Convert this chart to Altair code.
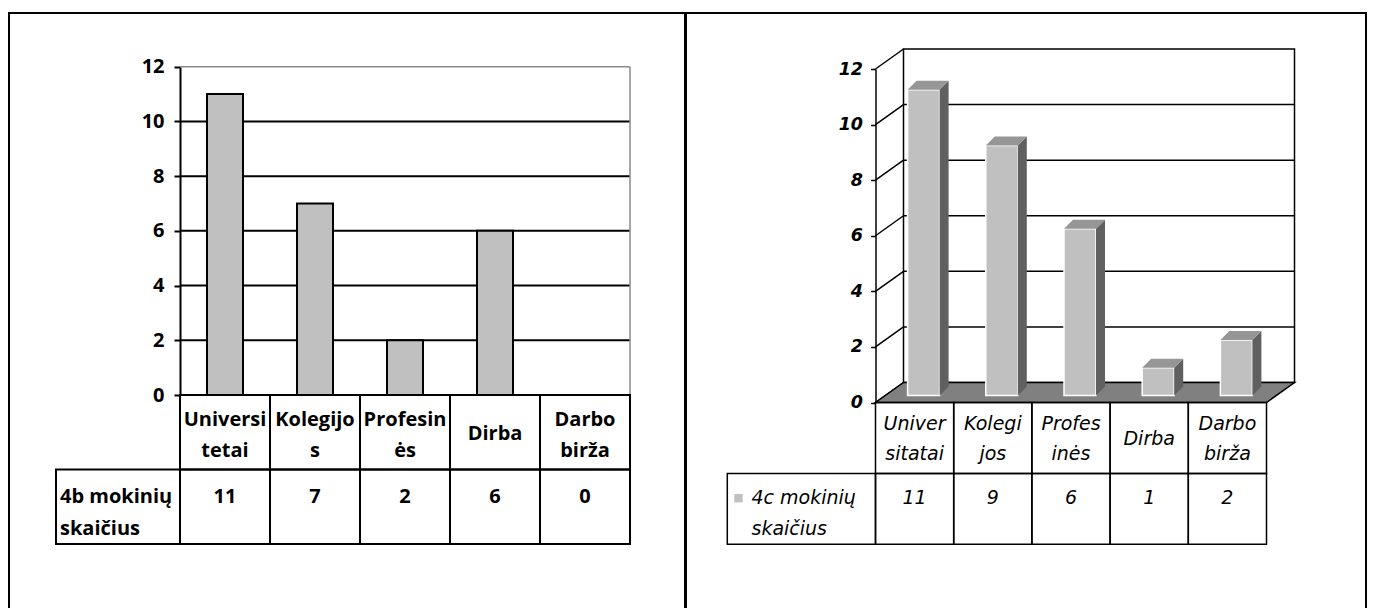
import altair as alt
import pandas as pd

# ---------------- chart values ----------------
CATEGORIES_4B = ["Universi\ntetai", "Kolegijo\ns", "Profesin\nės", "Dirba", "Darbo\nbirža"]
VALUES_4B = [11, 7, 2, 6, 0]
SERIES_4B = "4b mokinių\nskaičius"

CATEGORIES_4C = ["Univer\nsitatai", "Kolegi\njos", "Profes\ninės", "Dirba", "Darbo\nbirža"]
VALUES_4C = [11, 9, 6, 1, 2]
SERIES_4C = "4c mokinių\nskaičius"

Y_TICKS = [0, 2, 4, 6, 8, 10, 12]
TABLE_ROWS = ["categories", "values"]

# ---------------- layout / style ----------------
PANEL_H = 600
LEFT_W, RIGHT_W = 676, 680


def lin(domain, rng):
    return alt.Scale(domain=domain, range=rng, nice=False, zero=False, padding=0)


def band(rng):
    return alt.Scale(domain=TABLE_ROWS, range=rng, paddingInner=0, paddingOuter=0)


def split_labels(cats):
    multi, single = [], []
    for i, c in enumerate(cats):
        rec = {"x": i + 0.5, "row": TABLE_ROWS[0], "label": c}
        (multi if "\n" in c else single).append(rec)
    return pd.DataFrame(multi), pd.DataFrame(single)


# ================= left panel: 2D bars with data table =================
def left_panel():
    n = len(CATEGORIES_4B)
    ymax = max(Y_TICKS)
    XR, YR, RR = [171, 621], [382, 53.7], [382, 531]
    px = (XR[1] - XR[0]) / n
    xs, ys, rs = lin([0, n], XR), lin([0, ymax], YR), band(RR)
    font = dict(font="Open Sans", fontSize=20, fontWeight="bold", color="black")

    def X(f):
        return alt.X(f, scale=xs, axis=None)

    def Y(f):
        return alt.Y(f, scale=ys, axis=None)

    R = alt.Y("row:N", scale=rs, axis=None)

    grid = pd.DataFrame({"v": [t for t in Y_TICKS if 0 < t < ymax], "x0": 0, "x1": n})
    border = pd.DataFrame({"x0": [0, n], "x1": [n, n], "y0": [ymax, 0], "y1": [ymax, ymax]})
    bars = pd.DataFrame({"cat": CATEGORIES_4B, "value": VALUES_4B,
                         "xc": [i + 0.5 for i in range(n)]})
    label_x0 = -(180 - 56) / px
    cells = pd.DataFrame(
        [{"row": TABLE_ROWS[0], "x0": i, "x1": i + 1} for i in range(n)]
        + [{"row": TABLE_ROWS[1], "x0": label_x0, "x1": 0}]
        + [{"row": TABLE_ROWS[1], "x0": i, "x1": i + 1} for i in range(n)])
    multi, single = split_labels(CATEGORIES_4B)
    vals = pd.DataFrame({"x": [i + 0.5 for i in range(n)], "row": TABLE_ROWS[1],
                         "label": [str(v) for v in VALUES_4B]})
    series = pd.DataFrame({"x": [-(180 - 60) / px], "row": [TABLE_ROWS[1]], "label": [SERIES_4B]})

    axis = alt.Axis(orient="left", offset=-XR[0], values=Y_TICKS, grid=False, title=None,
                    domainColor="black", domainWidth=2, tickColor="black", tickWidth=2,
                    tickSize=6, labelFont="Open Sans", labelFontSize=20,
                    labelFontWeight="bold", labelColor="black", labelPadding=10)

    layers = [
        alt.Chart(grid).mark_rule(color="black", strokeWidth=2).encode(
            x=X("x0:Q"), x2=alt.X2("x1"), y=Y("v:Q")),
        alt.Chart(border).mark_rule(color="#8a8a8a", strokeWidth=1.5).encode(
            x=X("x0:Q"), x2=alt.X2("x1"), y=Y("y0:Q"), y2=alt.Y2("y1")),
        alt.Chart(bars).mark_bar(size=36, fill="#c0c0c0", stroke="black", strokeWidth=2).encode(
            x=X("xc:Q"), y=alt.Y("value:Q", scale=ys, axis=axis)),
        alt.Chart(cells).mark_rect(filled=False, stroke="black", strokeWidth=2).encode(
            x=X("x0:Q"), x2=alt.X2("x1"), y=R),
        alt.Chart(multi).mark_text(baseline="top", lineBreak="\n", lineHeight=31,
                                   dy=-22.25, **font).encode(x=X("x:Q"), y=R, text="label:N"),
        alt.Chart(single).mark_text(baseline="middle", dy=2, **font).encode(
            x=X("x:Q"), y=R, text="label:N"),
        alt.Chart(vals).mark_text(baseline="top", dy=-19.75, **font).encode(
            x=X("x:Q"), y=R, text="label:N"),
        alt.Chart(series).mark_text(baseline="top", align="left", lineBreak="\n",
                                    lineHeight=31.5, dy=-19.75, **font).encode(
            x=X("x:Q"), y=R, text="label:N"),
    ]
    return alt.layer(*layers).resolve_scale(y="independent").properties(
        width=LEFT_W, height=PANEL_H)


# ================= right panel: 3D bars with data table =================
def right_panel():
    n = len(CATEGORIES_4C)
    ymax = max(Y_TICKS)
    XR, YR, RR = [189.5, 580.5], [389.5, 56], [389.5, 531.3]
    pxx = (XR[1] - XR[0]) / n
    pxy = (YR[0] - YR[1]) / ymax
    xs, ys, rs = lin([0, n], XR), lin([0, ymax], YR), band(RR)
    font = dict(font="DejaVu Sans", fontSize=19, fontStyle="italic", color="black")

    # depth of the 3D box and of the bars (pixels -> data units)
    DX, DY = 28 / pxx, 20 / pxy
    OX, OY = 9 / pxx, 7 / pxy
    BW, BDX, BDY = 32 / pxx, 9 / pxx, 9 / pxy

    def X(f):
        return alt.X(f, scale=xs, axis=None, stack=None)

    def Y(f):
        return alt.Y(f, scale=ys, axis=None, stack=None)

    R = alt.Y("row:N", scale=rs, axis=None)

    wall = pd.DataFrame({"x0": [DX], "x1": [n + DX], "y0": [DY], "y1": [ymax + DY]})
    wgrid = pd.DataFrame({"y": [t + DY for t in Y_TICKS if 0 < t < ymax],
                          "x0": DX, "x1": n + DX})
    diag = pd.DataFrame({"v": Y_TICKS, "v2": [t + DY for t in Y_TICKS], "x0": 0, "x1": DX})
    floor = pd.DataFrame({"y": [0, DY], "xa": [0, DX], "xb": [n, n + DX]})

    front, side, top = [], [], []
    for i, (c, v) in enumerate(zip(CATEGORIES_4C, VALUES_4C)):
        x0 = i + 0.5 + OX - BW / 2
        x1 = x0 + BW
        front.append({"cat": c, "x0": x0, "x1": x1, "y0": OY, "y1": v + OY})
        side.append({"cat": c, "x": x1, "lo": OY, "hi": v + OY})
        side.append({"cat": c, "x": x1 + BDX, "lo": OY + BDY, "hi": v + OY + BDY})
        top.append({"cat": c, "y": v + OY, "xa": x0, "xb": x1})
        top.append({"cat": c, "y": v + OY + BDY, "xa": x0 + BDX, "xb": x1 + BDX})
    front, side, top = pd.DataFrame(front), pd.DataFrame(side), pd.DataFrame(top)

    label_x0 = -(875.5 - 727.3) / pxx
    cells = pd.DataFrame(
        [{"row": TABLE_ROWS[0], "x0": i, "x1": i + 1} for i in range(n)]
        + [{"row": TABLE_ROWS[1], "x0": label_x0, "x1": 0}]
        + [{"row": TABLE_ROWS[1], "x0": i, "x1": i + 1} for i in range(n)])
    multi, single = split_labels(CATEGORIES_4C)
    vals = pd.DataFrame({"x": [i + 0.5 for i in range(n)], "row": TABLE_ROWS[1],
                         "label": [str(v) for v in VALUES_4C]})
    series = pd.DataFrame({"x": [-(875.5 - 751.5) / pxx], "row": [TABLE_ROWS[1]],
                           "label": [SERIES_4C]})
    key = pd.DataFrame({"x": [-(875.5 - 738.5) / pxx], "row": [TABLE_ROWS[1]]})

    axis = alt.Axis(orient="left", offset=-XR[0], values=Y_TICKS, grid=False, title=None,
                    domainColor="black", domainWidth=1.5, tickColor="black", tickWidth=1.5,
                    tickSize=5, labelFont="DejaVu Sans", labelFontSize=17.5,
                    labelFontStyle="italic", labelFontWeight="bold", labelColor="black",
                    labelPadding=8)

    layers = [
        alt.Chart(wall).mark_rect(filled=False, stroke="black", strokeWidth=1.5).encode(
            x=X("x0:Q"), x2=alt.X2("x1"), y=Y("y0:Q"), y2=alt.Y2("y1")),
        alt.Chart(wgrid).mark_rule(color="black", strokeWidth=1.5).encode(
            x=X("x0:Q"), x2=alt.X2("x1"), y=Y("y:Q")),
        alt.Chart(diag).mark_rule(color="black", strokeWidth=1.5).encode(
            x=X("x0:Q"), x2=alt.X2("x1"),
            y=alt.Y("v:Q", scale=ys, axis=axis), y2=alt.Y2("v2")),
        alt.Chart(floor).mark_area(orient="horizontal", fill="#808080", stroke="black",
                                   strokeWidth=1.5).encode(
            y=Y("y:Q"), x=X("xa:Q"), x2=alt.X2("xb")),
        alt.Chart(front).mark_rect(fill="#c0c0c0", stroke="white", strokeWidth=1.5).encode(
            x=X("x0:Q"), x2=alt.X2("x1"), y=Y("y0:Q"), y2=alt.Y2("y1")),
        alt.Chart(side).mark_area(orient="vertical", fill="#606060").encode(
            x=X("x:Q"), y=Y("lo:Q"), y2=alt.Y2("hi"), detail="cat:N"),
        alt.Chart(top).mark_area(orient="horizontal", fill="#969696").encode(
            y=Y("y:Q"), x=X("xa:Q"), x2=alt.X2("xb"), detail="cat:N"),
        alt.Chart(cells).mark_rect(filled=False, stroke="black", strokeWidth=1.5).encode(
            x=X("x0:Q"), x2=alt.X2("x1"), y=R),
        alt.Chart(multi).mark_text(baseline="top", lineBreak="\n", lineHeight=30,
                                   dy=-22.95, **font).encode(x=X("x:Q"), y=R, text="label:N"),
        alt.Chart(single).mark_text(baseline="middle", dy=1, **font).encode(
            x=X("x:Q"), y=R, text="label:N"),
        alt.Chart(vals).mark_text(baseline="top", dy=-19.85, **font).encode(
            x=X("x:Q"), y=R, text="label:N"),
        alt.Chart(series).mark_text(baseline="top", align="left", lineBreak="\n",
                                    lineHeight=30.5, dy=-19.85, **font).encode(
            x=X("x:Q"), y=R, text="label:N"),
        alt.Chart(key).mark_square(size=70, color="#c0c0c0", opacity=1, yOffset=-10.65).encode(
            x=X("x:Q"), y=R),
    ]
    return alt.layer(*layers).resolve_scale(y="independent").properties(
        width=RIGHT_W, height=PANEL_H)


chart = (
    alt.hconcat(left_panel(), right_panel(), spacing=-1)
    .properties(padding={"left": 0, "top": 4, "right": 0, "bottom": 0})
    .configure_view(stroke="black", strokeWidth=2)
)

chart.save("out.html", embed_options={"renderer": "svg", "actions": False})
